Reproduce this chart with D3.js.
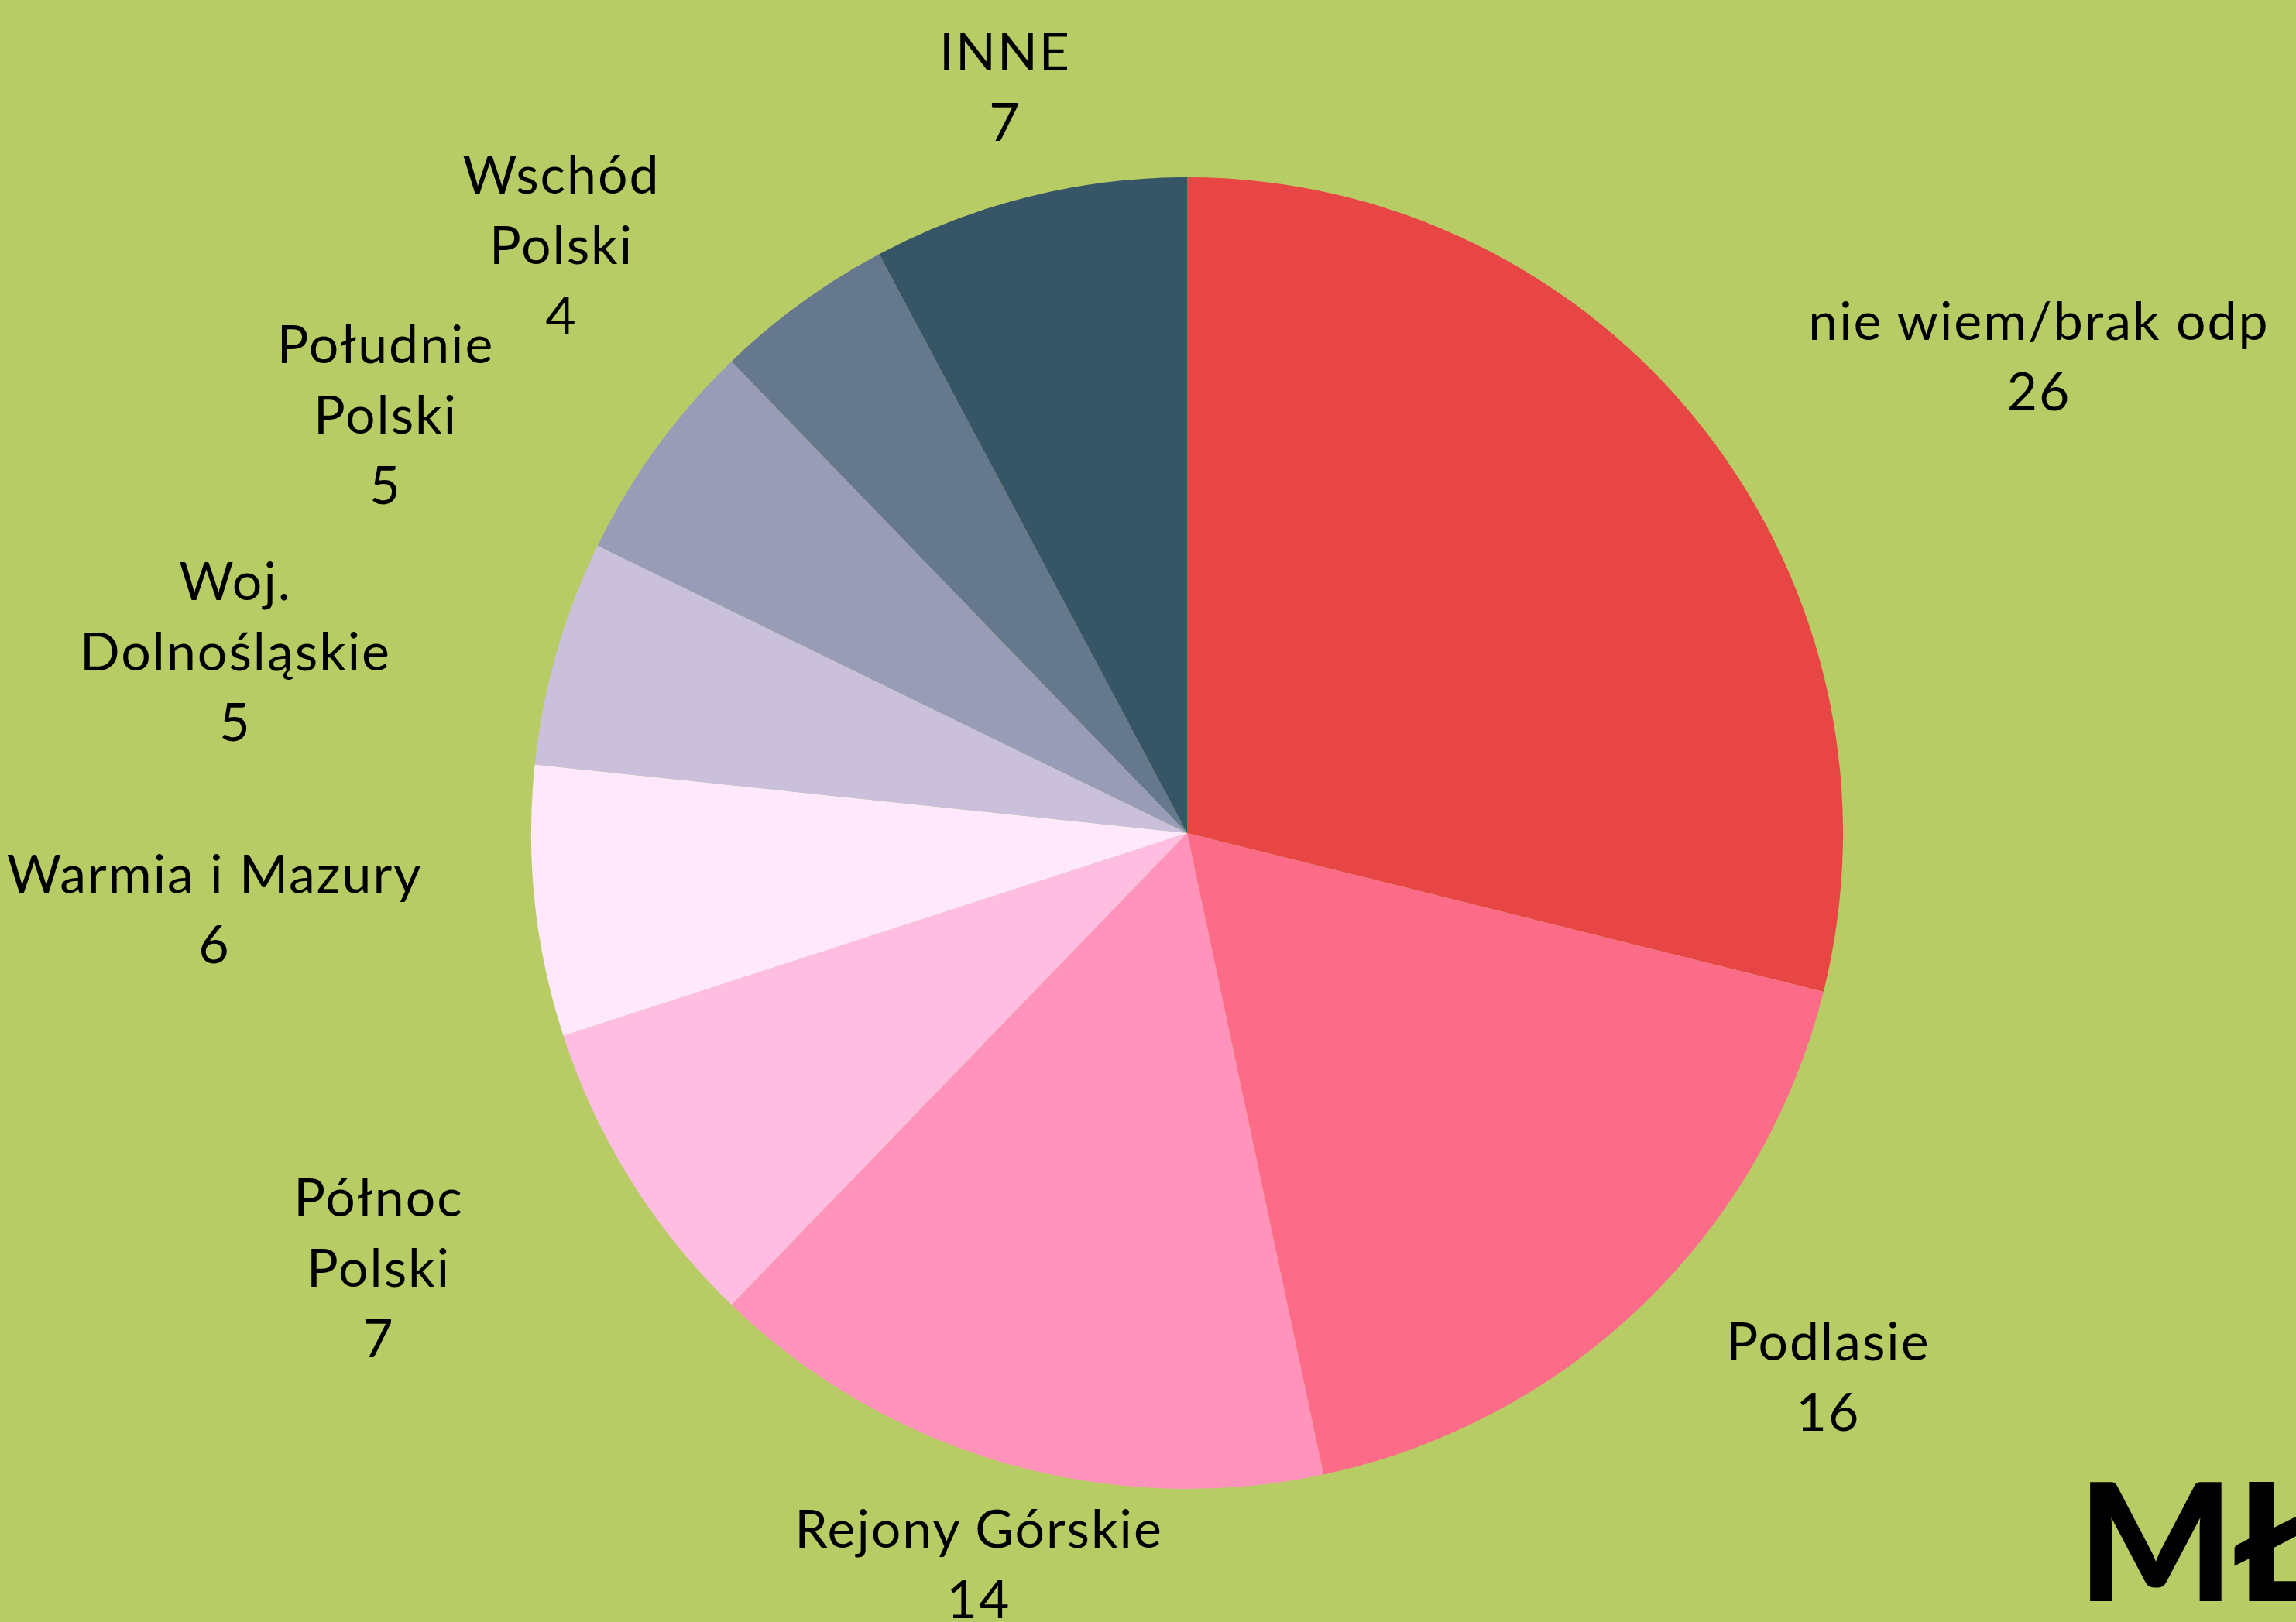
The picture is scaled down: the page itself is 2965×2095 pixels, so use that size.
<!DOCTYPE html>
<html>
<head>
<meta charset="utf-8">
<script src="https://cdn.jsdelivr.net/npm/d3@7"></script>
<style>
  html, body { margin: 0; padding: 0; background: #B8CC66; }
  svg { display: block; }
</style>
</head>
<body>
<svg id="chart"></svg>
<script>
// pie: regions chosen, clockwise from 12 o'clock
const categories = [
  ['nie wiem/brak odp'],
  ['Podlasie'],
  ['Rejony Górskie'],
  ['Północ', 'Polski'],
  ['Warmia i Mazury'],
  ['Woj.', 'Dolnośląskie'],
  ['Południe', 'Polski'],
  ['Wschód', 'Polski'],
  ['INNE']
]
const values = [26, 16, 14, 7, 6, 5, 5, 4, 7]
const colors = ['#E84545', '#FC6C88', '#FF93BB', '#FFBDE2', '#FFE8FB', '#CAC0DB', '#989CB6', '#66788E', '#365566']

// label anchors (center x, first baseline y) — hand placed like the original
const labelPos = [
  [2632, 439], [2360, 1757], [1263, 1999], [488, 1571], [276, 1153],
  [303, 775], [497, 469], [724, 250], [1297, 91]
]

const W = 2965, H = 2095
const cx = 1533, cy = 1076, R = 847
const lineH = 91

const svg = d3.select('#chart').attr('width', W).attr('height', H)
svg.append('rect').attr('width', W).attr('height', H).attr('fill', '#B8CC66')

const pie = d3.pie().value(d => d).sort(null)
const arc = d3.arc().innerRadius(0).outerRadius(R)

const g = svg.append('g').attr('transform', `translate(${cx},${cy})`)
g.selectAll('path')
  .data(pie(values))
  .join('path')
  .attr('d', arc)
  .attr('fill', (d, i) => colors[i])

// labels
const labels = svg.append('g')
  .attr('font-family', 'Lato, "Open Sans", sans-serif')
  .attr('font-size', 68)
  .attr('letter-spacing', 2)
  .attr('fill', '#000')
  .attr('text-anchor', 'middle')

categories.forEach((lines, i) => {
  const [x, y] = labelPos[i]
  const t = labels.append('text')
  lines.concat([String(values[i])]).forEach((s, k) => {
    t.append('tspan').attr('x', x + 1).attr('y', y + k * lineH).text(s)
  })
})

// logo
svg.append('text')
  .attr('x', 2683)
  .attr('y', 2068)
  .attr('font-family', 'Lato, sans-serif')
  .attr('font-weight', 900)
  .attr('font-size', 212)
  .attr('fill', '#000')
  .text('MŁ')
</script>
</body>
</html>
